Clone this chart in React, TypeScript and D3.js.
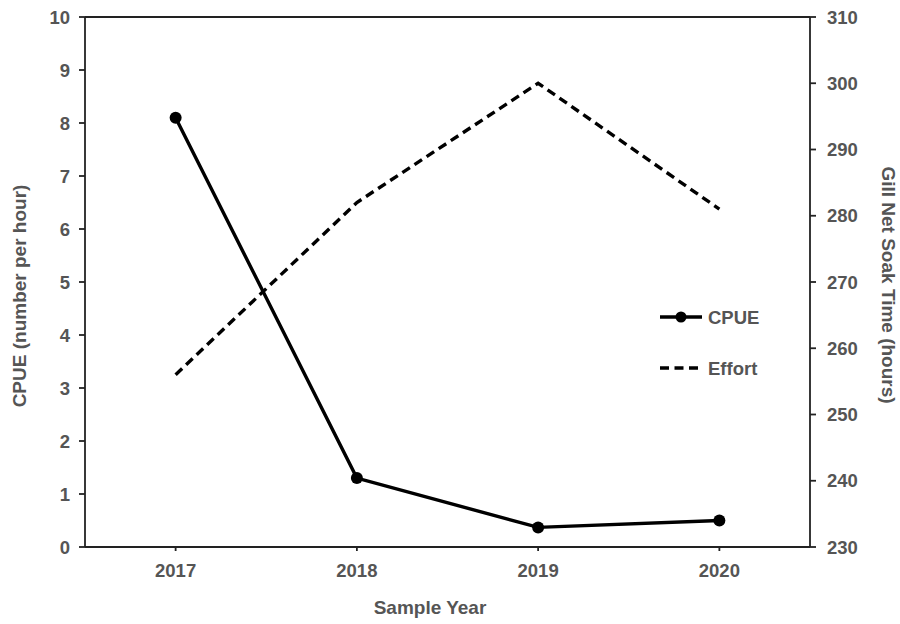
import React from "react";
import * as d3 from "d3";

const years = ["2017", "2018", "2019", "2020"];
const cpue = [8.1, 1.3, 0.37, 0.5];
const effort = [256, 282, 300, 281];
const leftTicks = [0, 1, 2, 3, 4, 5, 6, 7, 8, 9, 10];
const rightTicks = [230, 240, 250, 260, 270, 280, 290, 300, 310];

export default function App() {
  const W = 900, H = 624;
  const L = 85, R = 810, T = 17, B = 547;
  const x = d3.scalePoint<string>().domain(years).range([L, R]).padding(0.5);
  const yL = d3.scaleLinear().domain([0, 10]).range([B, T]);
  const yR = d3.scaleLinear().domain([230, 310]).range([B, T]);
  const cpueLine = d3.line<number>().x((_, i) => x(years[i])!).y((d) => yL(d));
  const effLine = d3.line<number>().x((_, i) => x(years[i])!).y((d) => yR(d));
  const textColor = "#555";
  const font = "'Liberation Sans', Arial, sans-serif";
  const fs = 18.5;
  return (
    <svg width={W} height={H} style={{ position: "absolute", left: 0, top: 0, background: "#fff" }} fontFamily={font}>
      <rect x={0} y={0} width={W} height={H} fill="#fff" />
      <line x1={L} x2={R} y1={T} y2={T} stroke="#222" strokeWidth={1.8} />
      <line x1={L} x2={R} y1={B} y2={B} stroke="#222" strokeWidth={1.8} />
      <line x1={L} x2={L} y1={T} y2={B} stroke="#222" strokeWidth={1.8} />
      <line x1={R} x2={R} y1={T} y2={B} stroke="#222" strokeWidth={1.8} />
      {leftTicks.map((t) => (
        <g key={"l" + t}>
          <line x1={L - 6} x2={L} y1={yL(t)} y2={yL(t)} stroke="#222" strokeWidth={1.8} />
          <text x={L - 15} y={yL(t)} dy="0.36em" textAnchor="end" fontSize={fs} fontWeight="bold" fill={textColor}>{t}</text>
        </g>
      ))}
      {rightTicks.map((t) => (
        <g key={"r" + t}>
          <line x1={R} x2={R + 6} y1={yR(t)} y2={yR(t)} stroke="#222" strokeWidth={1.8} />
          <text x={R + 17} y={yR(t)} dy="0.36em" textAnchor="start" fontSize={fs} fontWeight="bold" fill={textColor}>{t}</text>
        </g>
      ))}
      {years.map((yr) => (
        <g key={"x" + yr}>
          <line x1={x(yr)!} x2={x(yr)!} y1={B} y2={B + 4} stroke="#222" strokeWidth={1.8} />
          <text x={x(yr)!} y={B + 30} textAnchor="middle" fontSize={fs} fontWeight="bold" fill={textColor}>{yr}</text>
        </g>
      ))}
      <text x={430} y={614} textAnchor="middle" fontSize={19} fontWeight="bold" fill={textColor}>Sample Year</text>
      <text transform={`translate(26,${(T + B) / 2 + 14}) rotate(-90)`} textAnchor="middle" fontSize={19} fontWeight="bold" fill={textColor}>CPUE (number per hour)</text>
      <text transform={`translate(882,${(T + B) / 2 + 3}) rotate(90)`} textAnchor="middle" fontSize={19} fontWeight="bold" fill={textColor}>Gill Net Soak Time (hours)</text>
      <path d={effLine(effort)!} fill="none" stroke="#000" strokeWidth={3.4} strokeDasharray="9,5.5" />
      <path d={cpueLine(cpue)!} fill="none" stroke="#000" strokeWidth={3.4} />
      {cpue.map((v, i) => (
        <circle key={"c" + i} cx={x(years[i])!} cy={yL(v)} r={6} fill="#000" />
      ))}
      <line x1={660} x2={702} y1={317} y2={317} stroke="#000" strokeWidth={3.4} />
      <circle cx={681} cy={317} r={5.5} fill="#000" />
      <text x={708} y={317} dy="0.36em" fontSize={fs} fontWeight="bold" fill={textColor}>CPUE</text>
      <line x1={660} x2={702} y1={368} y2={368} stroke="#000" strokeWidth={3.4} strokeDasharray="9,5.5" />
      <text x={708} y={368} dy="0.36em" fontSize={fs} fontWeight="bold" fill={textColor}>Effort</text>
    </svg>
  );
}
